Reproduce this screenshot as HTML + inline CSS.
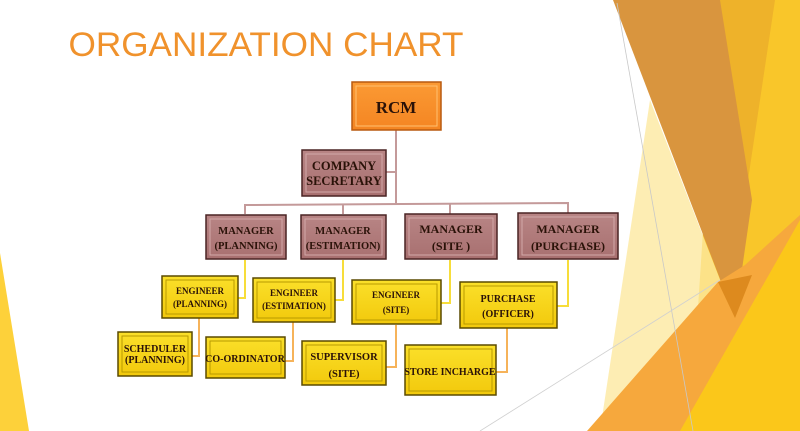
<!DOCTYPE html>
<html><head><meta charset="utf-8"><style>
html,body{margin:0;padding:0;background:#fff}
svg{display:block}
text{font-family:"Liberation Serif",serif;font-weight:bold;fill:#2a1208;text-anchor:middle}
</style></head><body>
<svg width="800" height="431" viewBox="0 0 800 431" xmlns="http://www.w3.org/2000/svg">
<defs>
<linearGradient id="gy" x1="0" y1="0" x2="0" y2="1"><stop offset="0" stop-color="#fbe02a"/><stop offset="1" stop-color="#f2c90c"/></linearGradient>
<linearGradient id="gm" x1="0" y1="0" x2="0" y2="1"><stop offset="0" stop-color="#b88585"/><stop offset="1" stop-color="#a87070"/></linearGradient>
<linearGradient id="go" x1="0" y1="0" x2="0" y2="1"><stop offset="0" stop-color="#fb9a34"/><stop offset="1" stop-color="#f48522"/></linearGradient>
</defs>
<polygon points="0,253 29,431 0,431" fill="#fdd13a"/>
<polygon points="718,0 800,0 800,431 690,431" fill="#f9c62a"/>
<polygon points="718,0 775,0 745,200 720,320" fill="#eeb22a"/>
<polygon points="650,100 735,318 745,431 600,431" fill="#fde9a0" opacity="0.8"/>
<polygon points="613,0 720,0 752,200 735,318" fill="#d9953e"/>
<polygon points="587,431 718,282 745,265 800,215 800,431" fill="#f6a83d"/>
<polygon points="680,431 800,220 800,431" fill="#fbc71a"/>
<polygon points="718,282 735,318 752,275" fill="#dd8a1e"/>
<line x1="617" y1="3" x2="693" y2="431" stroke="#c8c8c8" stroke-width="0.8"/>
<line x1="480" y1="431" x2="720" y2="280" stroke="#d0d0d0" stroke-width="0.8"/>
<text x="266" y="56" textLength="395" lengthAdjust="spacingAndGlyphs" style="font-family:'Liberation Sans',sans-serif;font-weight:normal;fill:#f0922c;font-size:34px">ORGANIZATION CHART</text>
<g stroke="#c49a9a" stroke-width="2" fill="none">
<polyline points="396,130 396,205"/>
<polyline points="386,172 396,172"/>
<polyline points="245,214 245,205 568,203 568,214"/>
<line x1="343" y1="205" x2="343" y2="214"/>
<line x1="450" y1="204" x2="450" y2="214"/>
</g>
<g stroke="#f7dd3a" stroke-width="2" fill="none">
<polyline points="245,260 245,298 238,298"/>
<polyline points="343,260 343,300 335,300"/>
<polyline points="450,260 450,303 441,303"/>
<polyline points="568,260 568,306 557,306"/>
</g>
<g stroke="#f6b35a" stroke-width="2" fill="none">
<polyline points="199,318 199,356 192,356"/>
<polyline points="293,322 293,361 285,361"/>
<polyline points="396,325 396,367 386,367"/>
<polyline points="507,328 507,372 496,372"/>
</g>
<g stroke-width="1.5">
<rect x="352" y="82" width="89" height="48" fill="url(#go)" stroke="#b85a10"/>
<rect x="356" y="86" width="81" height="40" fill="none" stroke="#ffc070" stroke-width="1"/>
<g fill="url(#gm)" stroke="#4a2424">
<rect x="302" y="150" width="84" height="46"/>
<rect x="206" y="215" width="80" height="44"/>
<rect x="301" y="215" width="85" height="44"/>
<rect x="405" y="214" width="92" height="45"/>
<rect x="518" y="213" width="100" height="46"/>
</g>
<g fill="none" stroke="#d2a8a8" stroke-width="1">
<rect x="306" y="154" width="76" height="38"/>
<rect x="210" y="219" width="72" height="36"/>
<rect x="305" y="219" width="77" height="36"/>
<rect x="409" y="218" width="84" height="37"/>
<rect x="522" y="217" width="92" height="38"/>
</g>
<g fill="url(#gy)" stroke="#5a4a00">
<rect x="162" y="276" width="76" height="42"/>
<rect x="253" y="278" width="82" height="44"/>
<rect x="352" y="280" width="89" height="44"/>
<rect x="460" y="282" width="97" height="46"/>
<rect x="118" y="332" width="74" height="44"/>
<rect x="206" y="337" width="79" height="41"/>
<rect x="302" y="341" width="84" height="44"/>
<rect x="405" y="345" width="91" height="50"/>
</g>
<g fill="none" stroke="#b89a00" stroke-width="1">
<rect x="166" y="280" width="68" height="34"/>
<rect x="257" y="282" width="74" height="36"/>
<rect x="356" y="284" width="81" height="36"/>
<rect x="464" y="286" width="89" height="38"/>
<rect x="122" y="336" width="66" height="36"/>
<rect x="210" y="341" width="71" height="33"/>
<rect x="306" y="345" width="76" height="36"/>
<rect x="409" y="349" width="83" height="42"/>
</g>
</g>
<text x="396" y="113" font-size="17">RCM</text>
<text x="344" y="170" font-size="12.5">COMPANY</text>
<text x="344" y="185" font-size="12.5">SECRETARY</text>
<g font-size="10.5">
<text x="246" y="234">MANAGER</text><text x="246" y="249">(PLANNING)</text>
<text x="343" y="234">MANAGER</text><text x="343" y="249">(ESTIMATION)</text>
<text x="451" y="233" font-size="12">MANAGER</text><text x="451" y="250" font-size="12">(SITE )</text>
<text x="568" y="233" font-size="12">MANAGER</text><text x="568" y="250" font-size="12">(PURCHASE)</text>
</g>
<g font-size="9">
<text x="200" y="294">ENGINEER</text><text x="200" y="307">(PLANNING)</text>
<text x="294" y="296">ENGINEER</text><text x="294" y="309">(ESTIMATION)</text>
<text x="396" y="298">ENGINEER</text><text x="396" y="313">(SITE)</text>
<text x="508" y="302" font-size="10">PURCHASE</text><text x="508" y="317" font-size="10">(OFFICER)</text>
<text x="155" y="352" font-size="10">SCHEDULER</text><text x="155" y="363" font-size="10">(PLANNING)</text>
<text x="245" y="362" font-size="10">CO-ORDINATOR</text>
<text x="344" y="360" font-size="10.5">SUPERVISOR</text><text x="344" y="377" font-size="10.5">(SITE)</text>
<text x="450" y="375" font-size="10">STORE INCHARGE</text>
</g>
</svg>
</body></html>
